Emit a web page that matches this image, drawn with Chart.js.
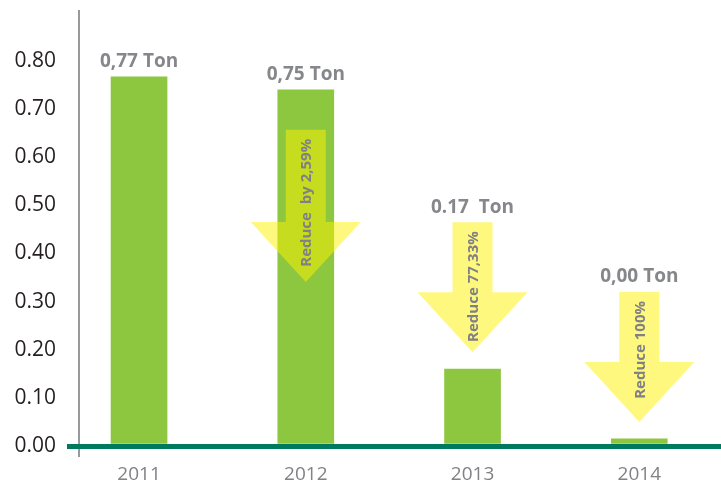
<!DOCTYPE html>
<html>
<head>
<meta charset="utf-8">
<script src="https://cdn.jsdelivr.net/npm/chart.js@4/dist/chart.umd.min.js"></script>
<style>
  html, body { margin: 0; padding: 0; background: #ffffff; }
  #wrap { position: relative; width: 721px; height: 486px; }
</style>
</head>
<body>
<div id="wrap"><canvas id="c"></canvas></div>
<script>
// ---- data ----
const years = [2011, 2012, 2013, 2014];
const values = [0.767, 0.74, 0.16, 0.015];
const valueLabels = ['0,77 Ton', '0,75 Ton', '0.17  Ton', '0,00 Ton'];
const yTicks = [0, 0.1, 0.2, 0.3, 0.4, 0.5, 0.6, 0.7, 0.8];
// reduction arrows: start and tip (in tons on the y axis) and their text
const arrowFrom = [null, 0.657, 0.465, 0.32];
const arrowTo = [null, 0.341, 0.195, 0.05];
const arrowText = [null, 'Reduce  by 2,59%', 'Reduce 77,33%', 'Reduce 100%'];

const FONT = "'Open Sans', 'DejaVu Sans', sans-serif";
const GREEN = '#8dc63f';
const TEAL = '#007a5e';
const GREY_TXT = '#86878a';

const axisLinePlugin = {
  id: 'axisLine',
  beforeDraw(chart) {
    const {ctx, chartArea} = chart;
    ctx.save();
    ctx.strokeStyle = '#98999c';
    ctx.lineWidth = 2;
    ctx.beginPath();
    ctx.moveTo(chartArea.left, chartArea.top);
    ctx.lineTo(chartArea.left, chartArea.bottom + 11);
    ctx.stroke();
    ctx.restore();
  }
};

const arrowsPlugin = {
  id: 'arrows',
  afterDatasetsDraw(chart) {
    const {ctx} = chart;
    const xs = chart.scales.x, ys = chart.scales.y;
    ctx.save();
    years.forEach((yr, i) => {
      const cx = xs.getPixelForValue(yr);
      const barTop = ys.getPixelForValue(values[i]);
      let labelRef = barTop;
      if (arrowFrom[i] !== null) {
        const top = ys.getPixelForValue(arrowFrom[i]);
        const tip = ys.getPixelForValue(arrowTo[i]);
        const headH = 60, shaftHalf = 20, headHalf = 55;
        ctx.fillStyle = 'rgba(255,242,0,0.5)';
        ctx.beginPath();
        ctx.moveTo(cx - shaftHalf, top);
        ctx.lineTo(cx + shaftHalf, top);
        ctx.lineTo(cx + shaftHalf, tip - headH);
        ctx.lineTo(cx + headHalf, tip - headH);
        ctx.lineTo(cx, tip);
        ctx.lineTo(cx - headHalf, tip - headH);
        ctx.lineTo(cx - shaftHalf, tip - headH);
        ctx.closePath();
        ctx.fill();
        // rotated text
        ctx.save();
        ctx.translate(cx + 1, top + 9);
        ctx.rotate(-Math.PI / 2);
        ctx.fillStyle = '#808184';
        ctx.font = 'bold 15px ' + FONT;
        ctx.textAlign = 'right';
        ctx.textBaseline = 'middle';
        ctx.fillText(arrowText[i], 0, 0);
        ctx.restore();
        labelRef = Math.min(labelRef, top);
      }
      ctx.fillStyle = GREY_TXT;
      ctx.font = 'bold 19px ' + FONT;
      ctx.textAlign = 'center';
      ctx.textBaseline = 'middle';
      ctx.fillText(valueLabels[i], cx, labelRef - 15);
    });
    ctx.restore();
  }
};

new Chart(document.getElementById('c'), {
  type: 'bar',
  data: {
    datasets: [{
      data: years.map((y, i) => ({x: y, y: values[i]})),
      backgroundColor: GREEN,
      borderWidth: 0,
      barThickness: 56
    }]
  },
  options: {
    responsive: true,
    maintainAspectRatio: false,
    animation: false,
    layout: { padding: { top: 10, right: 0, bottom: 0, left: 0 } },
    plugins: { legend: { display: false }, tooltip: { enabled: false } },
    scales: {
      x: {
        type: 'linear',
        offset: false,
        min: 2010.64,
        max: 2014.49,
        afterBuildTicks: s => { s.ticks = years.map(v => ({value: v})); },
        afterFit: s => { s.height = 40; s.paddingLeft = 0; s.paddingRight = 0; },
        grid: { display: false, drawTicks: false, offset: false },
        border: { display: false },
        ticks: {
          padding: 17,
          color: '#808285',
          font: { family: FONT, size: 19 },
          callback: v => String(v)
        }
      },
      y: {
        min: 0,
        max: 0.906,
        afterBuildTicks: s => { s.ticks = yTicks.map(v => ({value: v})); },
        afterFit: s => { s.width = 79; s.paddingTop = 0; s.paddingBottom = 0; },
        grid: {
          z: 1,
          drawTicks: true,
          tickLength: 12,
          color: c => (c.tick && c.tick.value === 0) ? TEAL : 'rgba(0,0,0,0)',
          lineWidth: c => (c.tick && c.tick.value === 0) ? 5 : 0
        },
        border: { display: false },
        ticks: {
          padding: 11,
          color: '#231f20',
          font: { family: FONT, size: 21 },
          callback: v => Number(v).toFixed(2)
        }
      }
    }
  },
  plugins: [axisLinePlugin, arrowsPlugin]
});
</script>
</body>
</html>
